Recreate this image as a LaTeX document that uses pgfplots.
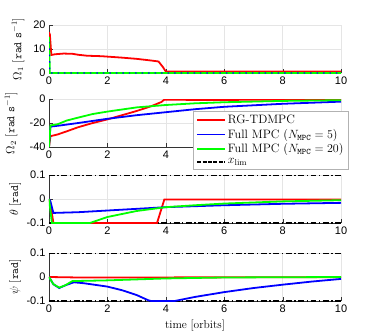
\documentclass[border=0pt]{standalone}
\usepackage{pgfplots}
\pgfplotsset{compat=1.18}
\usepackage{fontspec}
\newfontfamily\tickfont{Liberation Sans}
\newcommand\lblfont{\fontsize{11.5}{13}\selectfont}

\definecolor{mred}{rgb}{1,0,0}
\definecolor{mblue}{rgb}{0,0,1}
\definecolor{mgreen}{rgb}{0,1,0}

\pgfplotsset{
  panel/.style={
    scale only axis, width=292bp, height=48bp,
    xmin=0, xmax=10, xtick={0,2,4,6,8,10},
    axis x line*=bottom, axis y line*=left,
    axis line style={black!80}, tick style={black!80},
    grid=major, major grid style={gray!20},
    ticklabel style={font=\fontsize{11}{13}\selectfont\tickfont},
    label style={font=\lblfont},
    /pgf/number format/assume math mode=true,
  },
  ylab/.style={ylabel style={at={(axis description cs:-#1,0.5)}, anchor=center}},
  xlimline/.style={black, line width=1.8pt, dash pattern=on 6pt off 2.5pt on 1.5pt off 2.5pt},
}

\begin{document}
\begin{tikzpicture}
% panel 1: Omega_1
\begin{axis}[panel, at={(0bp,0bp)}, anchor=north west,
  ymin=0, ymax=20, ytick={0,10,20}, ylab=0.106,
  ylabel={$\Omega_1$ $[\mathtt{rad\ s}^{-1}]$}]
\addplot[mred, line width=1.8pt] coordinates {(0,17)(0.03,16)(0.08,7.5)(0.2,7.8)(0.5,8.1)(0.8,8.0)(1.0,7.6)(1.3,7.2)(1.8,7.0)(2.5,6.4)(3.0,5.9)(3.5,5.2)(3.75,4.8)(3.9,2.5)(4.0,0.6)(10,0.6)};
\addplot[mgreen, line width=1.8pt] coordinates {(0,15)(0.03,0)(10,0)};
\addplot[mblue, line width=1.4pt, dash pattern=on 1.5pt off 5pt] coordinates {(0,13)(0.03,0)(10,0)};
\end{axis}

% panel 2: Omega_2
\begin{axis}[panel, at={(0bp,-74bp)}, anchor=north west,
  ymin=-40, ymax=0, ytick={-40,-20,0}, ylab=0.130,
  ylabel={$\Omega_2$ $[\mathtt{rad\ s}^{-1}]$},
  legend cell align=left,
  legend style={at={(axis description cs:0.493,0.75)}, anchor=north west,
    draw=gray!60, fill=white, font=\fontsize{12.2}{14}\selectfont},
  legend image code/.code={\draw[line width=1.8pt,#1] (0bp,0bp) -- (28bp,0bp);}]
\addplot[mred, line width=1.8pt] coordinates {(0,-40)(0.05,-31)(0.3,-29.5)(0.6,-27)(1,-23.5)(1.5,-20)(2,-17)(2.5,-13.5)(3,-10)(3.5,-6)(3.85,-2.5)(3.95,-0.5)(5,-0.8)(10,-0.5)};
\addplot[mblue, line width=1.8pt] coordinates {(0,-40)(0.05,-23)(0.4,-22)(1,-20)(2,-16.5)(3,-13.5)(4,-11)(5,-8.5)(6,-6.5)(8,-4)(10,-2.2)};
\addplot[mgreen, line width=1.8pt] coordinates {(0,-40)(0.05,-22)(0.3,-21)(0.6,-18)(1,-15.5)(1.5,-12.5)(2,-10.5)(3,-7)(4,-5)(5,-3.6)(6,-2.7)(8,-1.6)(10,-1)};
\addlegendimage{black, line width=1.8pt, dash pattern=on 4pt off 1.5pt}
\legend{RG-TDMPC, Full MPC ($N_{\mathtt{MPC}}=5$), Full MPC ($N_{\mathtt{MPC}}=20$), $x_{\mathrm{lim}}$}
\end{axis}

% panel 3: theta
\begin{axis}[panel, at={(0bp,-150bp)}, anchor=north west,
  ymin=-0.1, ymax=0.1, ytick={-0.1,0,0.1}, ylab=0.116,
  ylabel={$\theta$ $[\mathtt{rad}]$}]
\addplot[xlimline] coordinates {(0,0.1)(10,0.1)};
\addplot[xlimline] coordinates {(0,-0.1)(10,-0.1)};
\addplot[mred, line width=1.8pt] coordinates {(0,0)(0.05,-0.02)(0.15,-0.1)(3.7,-0.1)(3.95,-0.002)(10,-0.002)};
\addplot[mblue, line width=1.8pt] coordinates {(0,0)(0.05,-0.01)(0.15,-0.058)(1,-0.055)(2,-0.048)(3,-0.041)(4,-0.034)(6,-0.026)(8,-0.02)(10,-0.016)};
\addplot[mgreen, line width=1.8pt] coordinates {(0,0)(0.1,-0.1)(1.4,-0.1)(2,-0.075)(3,-0.05)(4,-0.034)(5,-0.026)(6,-0.019)(8,-0.01)(10,-0.005)};
\end{axis}

% panel 4: psi
\begin{axis}[panel, at={(0bp,-228bp)}, anchor=north west,
  ymin=-0.1, ymax=0.1, ytick={-0.1,0,0.1}, ylab=0.116,
  ylabel={$\psi$ $[\mathtt{rad}]$},
  xlabel={time [orbits]}, xlabel style={yshift=-1pt}]
\addplot[xlimline] coordinates {(0,0.1)(10,0.1)};
\addplot[xlimline] coordinates {(0,-0.1)(10,-0.1)};
\addplot[mred, line width=1.8pt] coordinates {(0,0)(1,-0.002)(10,-0.001)};
\addplot[mblue, line width=1.8pt] coordinates {(0,0)(0.15,-0.03)(0.35,-0.046)(0.55,-0.035)(0.85,-0.022)(1.2,-0.026)(1.6,-0.033)(2,-0.04)(2.5,-0.055)(3,-0.075)(3.4,-0.097)(3.5,-0.1)(4.3,-0.1)(5,-0.083)(6,-0.063)(7,-0.046)(8,-0.032)(9,-0.019)(10,-0.008)};
\addplot[mgreen, line width=1.8pt] coordinates {(0,0)(0.15,-0.03)(0.35,-0.044)(0.55,-0.035)(0.8,-0.017)(1.2,-0.016)(2,-0.014)(3,-0.01)(4,-0.006)(6,-0.002)(10,0)};
\end{axis}

\path (-49bp,25bp) rectangle (328bp,-311bp);
\end{tikzpicture}
\end{document}
